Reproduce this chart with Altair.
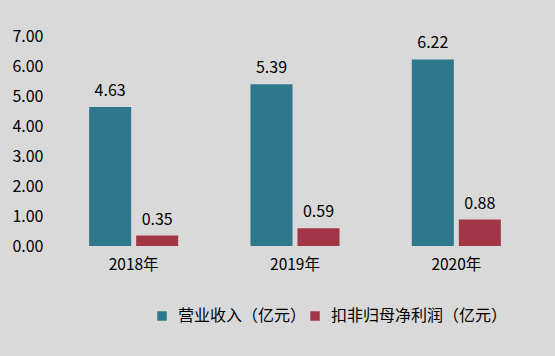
import altair as alt
import pandas as pd

years = ["2018年", "2019年", "2020年"]
series = ["营业收入（亿元）", "扣非归母净利润（亿元）"]
revenue = [4.63, 5.39, 6.22]
profit = [0.35, 0.59, 0.88]
colors = ["#2e788d", "#a23546"]

rows = []
for i, y in enumerate(years):
    rows.append({"year": y, "series": series[0], "value": revenue[i]})
    rows.append({"year": y, "series": series[1], "value": profit[i]})
df = pd.DataFrame(rows)

font = "Noto Sans CJK SC"

x = alt.X("year:N", sort=years,
          scale=alt.Scale(paddingInner=0.448, paddingOuter=0.224),
          axis=alt.Axis(title=None, labelAngle=0, domain=False, ticks=False,
                        labelFontSize=15.5, labelColor="#000000", labelFont=font,
                        labelPadding=11))
xo = alt.XOffset("series:N", sort=series,
                 scale=alt.Scale(paddingInner=0.106, paddingOuter=0))
y = alt.Y("value:Q", scale=alt.Scale(domain=[0, 7], nice=False),
          axis=alt.Axis(title=None, values=[0, 1, 2, 3, 4, 5, 6, 7], format=".2f",
                        domain=False, ticks=False, grid=False, labelOverlap=False,
                        labelFontSize=16, labelColor="#000000", labelFont=font,
                        labelPadding=10))

bars = alt.Chart(df).mark_bar().encode(
    x=x, xOffset=xo, y=y,
    color=alt.Color("series:N", sort=series,
                    scale=alt.Scale(domain=series, range=colors),
                    legend=alt.Legend(title=None, orient="none", direction="horizontal",
                                      legendX=101, legendY=272,
                                      symbolType="square", symbolSize=90,
                                      symbolStrokeWidth=0, labelLimit=300,
                                      labelFontSize=16, labelFont=font,
                                      labelColor="#000000", columnPadding=0,
                                      labelOffset=8)),
)

labels = alt.Chart(df).mark_text(baseline="bottom", dy=-8, fontSize=16,
                                 font=font, color="#000000").encode(
    x=x, xOffset=xo, y=y,
    text=alt.Text("value:Q", format=".2f"),
)

chart = alt.layer(bars, labels).properties(
    width=484, height=210,
    background="#d9d9d9",
    padding={"left": 53, "top": 36, "right": 18, "bottom": 110},
    autosize=alt.AutoSizeParams(type="none"),
).configure_view(stroke=None).configure_axis(labelOverlap=False)

chart.save("out.html", embed_options={"renderer": "svg", "actions": False})
